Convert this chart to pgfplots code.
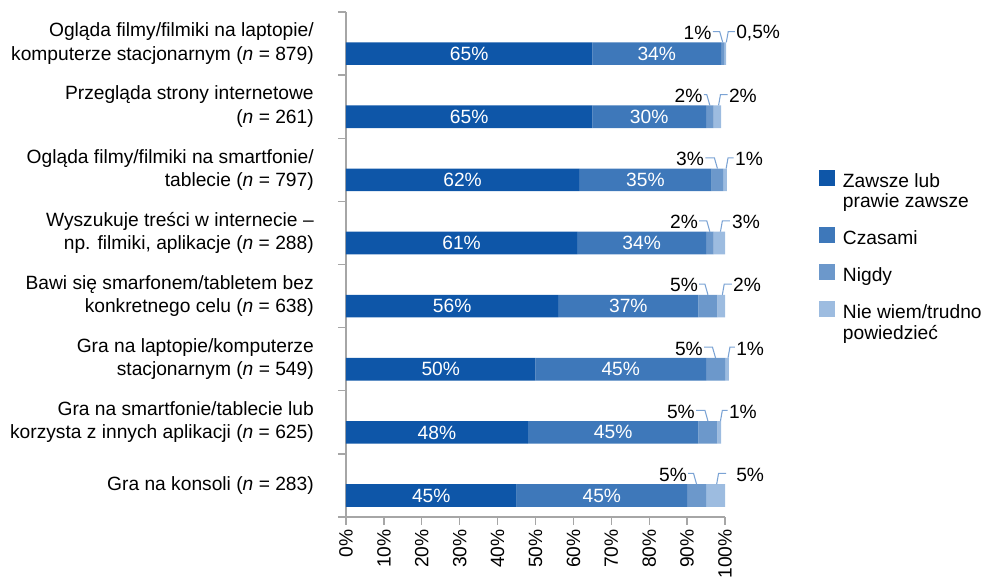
\documentclass[border=0pt]{standalone}
\usepackage{fontspec}
\setmainfont{Liberation Sans}
\usepackage{pgfplots}
\pgfplotsset{compat=1.18}
\definecolor{cA}{HTML}{0E56A8}
\definecolor{cB}{HTML}{3E78BA}
\definecolor{cC}{HTML}{6C98CB}
\definecolor{cD}{HTML}{9DBCE0}
\definecolor{axgray}{HTML}{A6A6A6}
\definecolor{leadc}{HTML}{7BA3D4}
\newcommand\fs{\fontsize{14.4}{17.5}\selectfont}
\pgfplotsset{legsq/.style={legend image code/.code={\path[fill=none,draw=none] (0pt,-3pt) rectangle (12pt,14pt); \fill[##1,draw=none] (0pt,1.5pt) rectangle (12pt,13.5pt);}},
 legsqtwo/.style={legend image code/.code={\path[fill=none,draw=none] (0pt,-18pt) rectangle (12pt,14pt); \fill[##1,draw=none] (0pt,1.5pt) rectangle (12pt,13.5pt);}}}
% #1 idx, #2 nigdy centre, #3 nigdy label right, #4 nigdy label, #5 niewiem centre, #6 niewiem label left, #7 niewiem label, #8 line end
\newcommand\lead[8]{%
 \draw[leadc, line width=0.8pt] (axis cs:#3+0.3,#1+0.19) -- (axis cs:#2-0.8,#1+0.19) -- (axis cs:#2,#1+0.02);
 \node[anchor=east, inner sep=0pt] at (axis cs:#3,#1+0.17) {#4};
 \draw[leadc, line width=0.8pt] (axis cs:#5+0.3,#1+0.02) -- (axis cs:#5+0.8,#1+0.19) -- (axis cs:#8,#1+0.19);
 \node[anchor=west, inner sep=0pt] at (axis cs:#6,#1+0.17) {#7};
}
\newcommand\inl[5]{%
 \node[white, inner sep=0pt] at (axis cs:#2,#1) {#3};
 \node[white, inner sep=0pt] at (axis cs:#4,#1) {#5};
}
\newcommand\two[2]{\begin{tabular}[t]{@{}l@{}}#1\\#2\end{tabular}}
\begin{document}
\begin{tikzpicture}[font=\fs]
\useasboundingbox (-259.5pt,-45pt) rectangle (479.25pt,387.75pt);
\begin{axis}[
 at={(0pt,0pt)}, anchor=south west,
 scale only axis, width=284.25pt, height=378.75pt,
 xbar stacked, bar width=17pt,
 xmin=0, xmax=100, ymin=-0.5, ymax=7.5,
 clip=false,
 axis lines=left, axis line style={-, draw=axgray, line width=1pt},
 tick align=outside, major tick length=6pt,
 tick style={draw=axgray, line width=1pt},
 xtick={0,10,...,100},
 xticklabels={0\%,10\%,20\%,30\%,40\%,50\%,60\%,70\%,80\%,90\%,100\%},
 xticklabel style={rotate=90, anchor=east, inner sep=3pt},
 ytick={-0.5,0.5,...,7.5},
 yticklabels={,,,,,,,,},
 extra y ticks={0,1,2,3,4,5,6,7},
 extra y tick labels={
  {Gra na konsoli (\textit{n} = 283)},
  {Gra na smartfonie/tablecie lub\\korzysta z innych aplikacji (\textit{n} = 625)},
  {Gra na laptopie/komputerze\\stacjonarnym (\textit{n} = 549)},
  {Bawi się smarfonem/tabletem bez\\konkretnego celu (\textit{n} = 638)},
  {Wyszukuje treści w internecie –\\np. filmiki, aplikacje (\textit{n} = 288)},
  {Ogląda filmy/filmiki na smartfonie/\\tablecie (\textit{n} = 797)},
  {Przegląda strony internetowe\\(\textit{n} = 261)},
  {Ogląda filmy/filmiki na laptopie/\\komputerze stacjonarnym (\textit{n} = 879)}},
 extra y tick style={major tick length=0pt, tick style={draw=none},
   yticklabel style={align=right, inner sep=0pt, xshift=-24pt}},
 tick label style={font=\fs},
 /pgf/number format/assume math mode=true,
 legend style={draw=none, fill=none, inner sep=0pt, outer sep=0pt,
   at={(1.248,0.6885)}, anchor=north west, row sep=10.75pt, column sep=6pt,
   nodes={inner sep=0pt, font=\fontsize{14.4}{15}\selectfont},
   cells={anchor=base west}},
 legend entries={{\two{Zawsze lub}{prawie zawsze}},Czasami,Nigdy,{\two{Nie wiem/trudno}{powiedzieć}}},
]
\addplot[fill=cA, draw=none, legsqtwo] coordinates {(65,6.84) (65,5.84) (61.5,4.84) (61,3.84) (56,2.84) (50,1.84) (48,0.84) (45,-0.16)};
\addplot[fill=cB, draw=none, legsq] coordinates {(34,6.84) (30,5.84) (35,4.84) (34,3.84) (37,2.84) (45,1.84) (45,0.84) (45,-0.16)};
\addplot[fill=cC, draw=none, legsq] coordinates {(0.8,6.84) (2,5.84) (3,4.84) (2,3.84) (5,2.84) (5,1.84) (5,0.84) (5,-0.16)};
\addplot[fill=cD, draw=none, legsq] coordinates {(0.5,6.84) (2,5.84) (1,4.84) (3,3.84) (2,2.84) (1,1.84) (1,0.84) (5,-0.16)};
\end{axis}
\begin{axis}[
 at={(0pt,0pt)}, anchor=south west,
 scale only axis, width=284.25pt, height=378.75pt,
 xmin=0, xmax=100, ymin=-0.5, ymax=7.5,
 hide axis, clip=false,
]
\inl{6.84}{32.5}{65\%}{82}{34\%}
\inl{5.84}{32.5}{65\%}{80}{30\%}
\inl{4.84}{30.75}{62\%}{79}{35\%}
\inl{3.84}{30.5}{61\%}{78}{34\%}
\inl{2.84}{28}{56\%}{74.5}{37\%}
\inl{1.84}{25}{50\%}{72.5}{45\%}
\inl{0.84}{24}{48\%}{70.5}{45\%}
\inl{-0.16}{22.5}{45\%}{67.5}{45\%}
\lead{7}{99.4}{96.5}{1\%}{100.05}{102.9}{0,5\%}{102.6}
\lead{6}{96}{94.1}{2\%}{98}{101}{2\%}{100.7}
\lead{5}{98}{94.5}{3\%}{100}{102.6}{1\%}{102.3}
\lead{4}{96}{92.9}{2\%}{98.5}{101.8}{3\%}{101.3}
\lead{3}{95.5}{92.9}{5\%}{99}{102.1}{2\%}{101.8}
\lead{2}{97.5}{94.2}{5\%}{100.5}{102.9}{1\%}{102.6}
\lead{1}{95.5}{92.1}{5\%}{98.5}{101}{1\%}{100.7}
\lead{0}{92.5}{90}{5\%}{97.5}{102.9}{5\%}{100.3}
\end{axis}
\end{tikzpicture}
\end{document}
